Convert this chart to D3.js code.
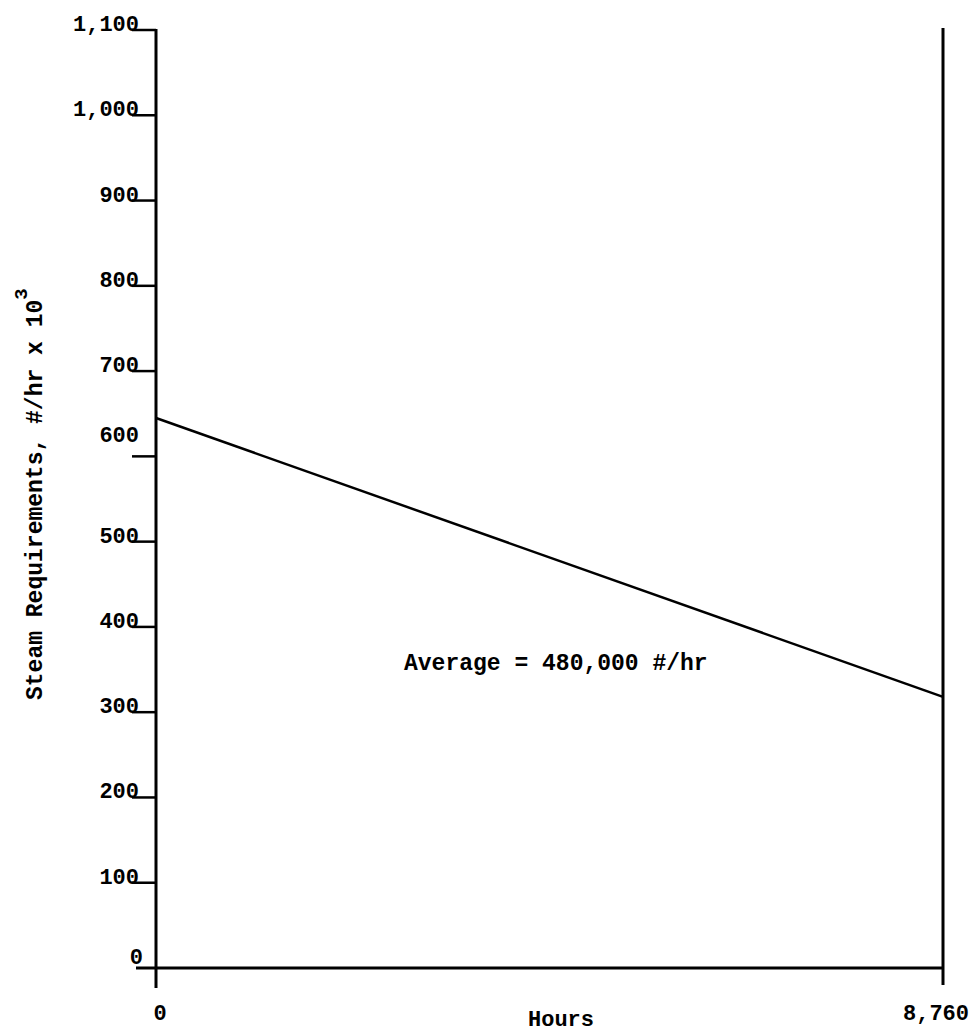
<!DOCTYPE html>
<html>
<head>
<meta charset="utf-8">
<script src="https://cdn.jsdelivr.net/npm/d3@7"></script>
<style>
  html, body { margin: 0; padding: 0; background: #fff; }
  svg { display: block; }
  text { font-family: "Liberation Mono", "Courier New", monospace; font-weight: bold; fill: #000; }
</style>
</head>
<body>
<script>
// ---- data ----
const hours = [0, 8760];
const steam = [645, 318];            // #/hr x 10^3
const yTicks = [0, 100, 200, 300, 400, 500, 600, 700, 800, 900, 1000, 1100];
const yTickLabels = ["0", "100", "200", "300", "400", "500", "600", "700", "800", "900", "1,000", "1,100"];
const xTicks = [0, 8760];
const xTickLabels = ["0", "8,760"];
const xTitle = "Hours";
const yTitle = "Steam Requirements, #/hr x 10";
const yTitleSup = "3";
const note = "Average = 480,000 #/hr";

// ---- layout ----
const W = 974, H = 1036;
const svg = d3.select("body").append("svg").attr("width", W).attr("height", H);

const x = d3.scaleLinear().domain([0, 8760]).range([156, 943]);
const y = d3.scaleLinear().domain([0, 1100]).range([968, 30]);

const ink = "#000";

// left axis line
svg.append("line").attr("x1", x(0)).attr("x2", x(0))
  .attr("y1", y(1100) - 1).attr("y2", y(0) + 20)
  .attr("stroke", ink).attr("stroke-width", 3);
// right axis line
svg.append("line").attr("x1", x(8760)).attr("x2", x(8760))
  .attr("y1", y(1100) - 2).attr("y2", y(0) + 17)
  .attr("stroke", ink).attr("stroke-width", 3);
// bottom axis line
svg.append("line").attr("x1", x(0) - 20).attr("x2", x(8760))
  .attr("y1", y(0)).attr("y2", y(0))
  .attr("stroke", ink).attr("stroke-width", 3);

// y ticks
const yt = svg.append("g");
yTicks.forEach((v, i) => {
  if (v > 0) {
    yt.append("line").attr("x1", x(0) - 24).attr("x2", x(0))
      .attr("y1", y(v)).attr("y2", y(v))
      .attr("stroke", ink).attr("stroke-width", 2.5);
  }
  const off = v === 600 ? -14 : (v === 0 ? -4 : 1);
  yt.append("text")
    .attr("x", v === 0 ? 143 : 139)
    .attr("y", y(v) + off)
    .attr("text-anchor", "end")
    .attr("font-size", 22)
    .text(yTickLabels[i]);
});

// x tick labels
xTicks.forEach((v, i) => {
  svg.append("text")
    .attr("x", x(v) + (i === 0 ? 4 : -7))
    .attr("y", 1020)
    .attr("text-anchor", "middle")
    .attr("font-size", 22)
    .text(xTickLabels[i]);
});

// x title
svg.append("text").attr("x", 561).attr("y", 1026)
  .attr("text-anchor", "middle").attr("font-size", 22).text(xTitle);

// y title
const yt2 = svg.append("text")
  .attr("transform", "translate(42,700) rotate(-90)")
  .attr("text-anchor", "start").attr("font-size", 23);
yt2.append("tspan").text(yTitle);
yt2.append("tspan").attr("dy", -15).attr("font-size", 19).text(yTitleSup);

// data line
const pts = hours.map((h, i) => [h, steam[i]]);
svg.append("path").datum(pts)
  .attr("d", d3.line().x(d => x(d[0])).y(d => y(d[1])))
  .attr("fill", "none").attr("stroke", ink).attr("stroke-width", 2.5);

// annotation
svg.append("text").attr("x", 404).attr("y", 670)
  .attr("font-size", 23).text(note);
</script>
</body>
</html>
